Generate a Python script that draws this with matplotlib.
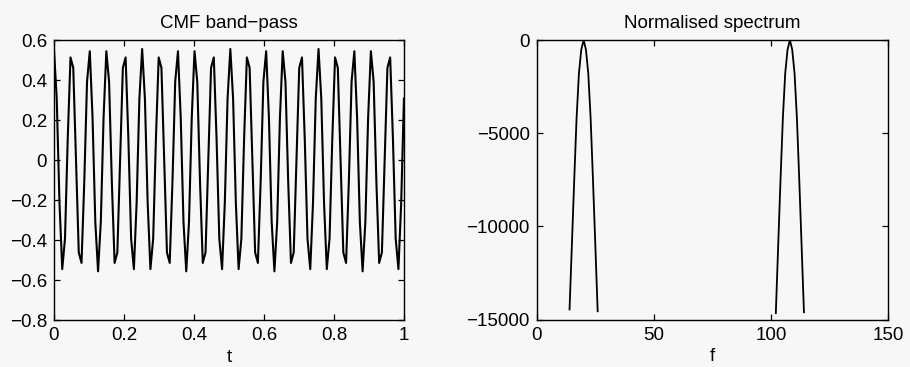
import numpy as np
import matplotlib
matplotlib.use("Agg")
import matplotlib.pyplot as plt

plt.rcParams["font.family"] = ["Liberation Sans", "DejaVu Sans"]
plt.rcParams["font.size"] = 13.5

# band-pass filtered signal, 128 samples over t = 0..1
cmf_values = [
    0.555, 0.308, -0.212, -0.544, -0.392, 0.108, 0.513, 0.461,
    0.000, -0.461, -0.513, -0.108, 0.392, 0.544, 0.212, -0.308,
    -0.555, -0.308, 0.212, 0.544, 0.392, -0.108, -0.513, -0.461,
    0.000, 0.461, 0.513, 0.108, -0.392, -0.544, -0.212, 0.308,
    0.555, 0.308, -0.212, -0.544, -0.392, 0.108, 0.513, 0.461,
    0.000, -0.461, -0.513, -0.108, 0.392, 0.544, 0.212, -0.308,
    -0.555, -0.308, 0.212, 0.544, 0.392, -0.108, -0.513, -0.461,
    0.000, 0.461, 0.513, 0.108, -0.392, -0.544, -0.212, 0.308,
    0.555, 0.308, -0.212, -0.544, -0.392, 0.108, 0.513, 0.461,
    0.000, -0.461, -0.513, -0.108, 0.392, 0.544, 0.212, -0.308,
    -0.555, -0.308, 0.212, 0.544, 0.392, -0.108, -0.513, -0.461,
    0.000, 0.461, 0.513, 0.108, -0.392, -0.544, -0.212, 0.308,
    0.555, 0.308, -0.212, -0.544, -0.392, 0.108, 0.513, 0.461,
    0.000, -0.461, -0.513, -0.108, 0.392, 0.544, 0.212, -0.308,
    -0.555, -0.308, 0.212, 0.544, 0.392, -0.108, -0.513, -0.461,
    0.000, 0.461, 0.513, 0.108, -0.392, -0.544, -0.212, 0.308,
]

# normalised spectrum, two lobes
lobe1_f = [14, 15, 16, 17, 18, 19, 20, 21, 22, 23, 24, 25, 26]
lobe1_s = [-14450, -11000, -7500, -4200, -1800, -520, 0, -520, -1800, -4200, -7500, -11000, -14550]
lobe2_f = [102, 103, 104, 105, 106, 107, 108, 109, 110, 111, 112, 113, 114]
lobe2_s = [-14650, -11050, -7500, -4200, -1800, -520, 0, -520, -1800, -4200, -7500, -11050, -14600]

left_xticks = [0, 0.2, 0.4, 0.6, 0.8, 1]
left_xlabels = ["0", "0.2", "0.4", "0.6", "0.8", "1"]
left_yticks = [-0.8, -0.6, -0.4, -0.2, 0, 0.2, 0.4, 0.6]
left_ylabels = ["\u22120.8", "\u22120.6", "\u22120.4", "\u22120.2", "0", "0.2", "0.4", "0.6"]
right_xticks = [0, 50, 100, 150]
right_yticks = [-15000, -10000, -5000, 0]
right_ylabels = ["\u221215000", "\u221210000", "\u22125000", "0"]

bg = "#f7f7f7"
fig = plt.figure(figsize=(9.1, 3.67), dpi=100, facecolor=bg)
ax1 = fig.add_axes([0.0593, 0.127, 0.3846, 0.764], facecolor=bg)
ax2 = fig.add_axes([0.5898, 0.129, 0.3864, 0.762], facecolor=bg)

t = np.linspace(0, 1, len(cmf_values))
ax1.plot(t, cmf_values, color="black", lw=1.5)
ax1.set_xlim(0, 1)
ax1.set_ylim(-0.8, 0.6)
ax1.set_xticks(left_xticks, left_xlabels)
ax1.set_yticks(left_yticks, left_ylabels)
ax1.set_title("CMF band\u2212pass", pad=9, fontsize=13.5)
ax1.set_xlabel("t", labelpad=3)

ax2.plot(lobe1_f, lobe1_s, color="black", lw=1.3)
ax2.plot(lobe2_f, lobe2_s, color="black", lw=1.3)
ax2.set_xlim(0, 150)
ax2.set_ylim(-15000, 0)
ax2.set_xticks(right_xticks)
ax2.set_yticks(right_yticks, right_ylabels)
ax2.set_title("Normalised spectrum", pad=9, fontsize=13.5)
ax2.set_xlabel("f", labelpad=3)

for ax in (ax1, ax2):
    ax.tick_params(direction="in", top=True, right=True, length=4, width=0.9, pad=5)
    for sp in ax.spines.values():
        sp.set_linewidth(1.0)

plt.savefig("out.png", dpi=100, facecolor=bg)
